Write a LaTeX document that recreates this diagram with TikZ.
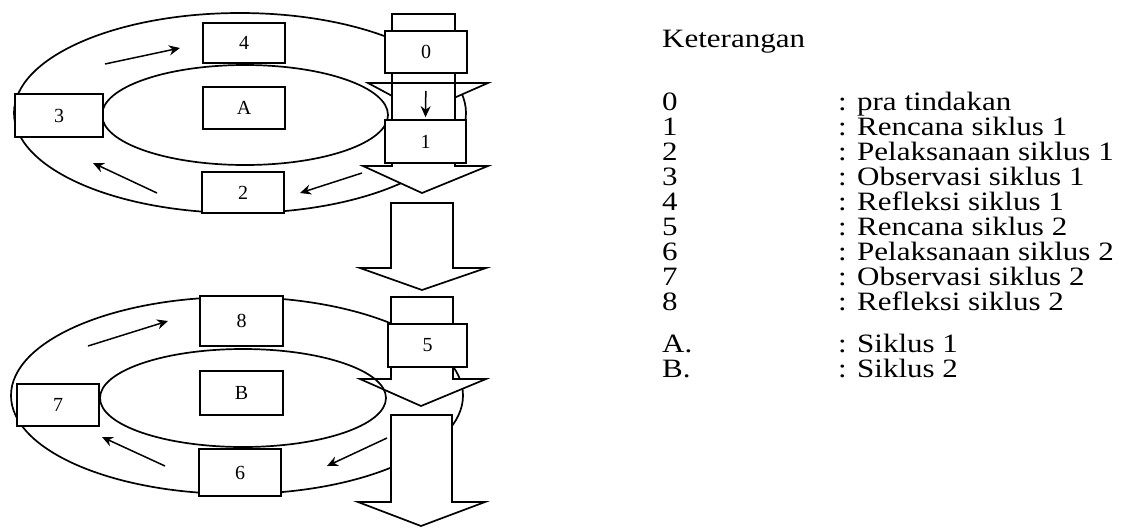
\documentclass[tikz,border=0pt]{standalone}
\usepackage{fontspec}
\setmainfont{Liberation Serif}
\newfontfamily\legfont[FakeStretch=1.17]{Liberation Serif}
\usetikzlibrary{arrows.meta}
\begin{document}
\begin{tikzpicture}[x=1pt,y=-1pt,
  ring/.style={line width=1.7pt},
  blk/.style={draw, fill=white, line width=1.7pt, line join=miter},
  box/.style={draw, fill=white, line width=1.7pt, inner sep=0pt, font=\fontsize{20}{20}\selectfont},
  sarr/.style={line width=1.5pt, -{Stealth[length=11pt,width=10pt]}},
  leg/.style={anchor=base west, inner sep=0pt, font=\legfont\fontsize{26.5}{26.5}\selectfont}
]
\useasboundingbox (0,0) rectangle (1123,528);

% outer rings
\draw[ring] (240,113) ellipse [x radius=226pt, y radius=100pt];
\draw[ring] (237,395.5) ellipse [x radius=226pt, y radius=98.5pt];

% block arrows
\draw[blk] (392,14) -- (455,14) -- (455,83) -- (488,83) -- (422,112) -- (368,83) -- (392,83) -- cycle;
\draw[blk] (392,83) -- (455,83) -- (455,166) -- (488,166) -- (422,193) -- (363,166) -- (392,166) -- cycle;
\draw[blk] (391,203) -- (453,203) -- (453,268) -- (486,268) -- (422,290) -- (360,268) -- (391,268) -- cycle;
\draw[blk] (391,297) -- (453,297) -- (453,379) -- (486,379) -- (421,406) -- (360,379) -- (391,379) -- cycle;
\draw[blk] (391,415) -- (452,415) -- (452,502) -- (485,502) -- (421,526) -- (358,502) -- (391,502) -- cycle;

% inner rings
\draw[ring] (245,115) ellipse [x radius=143pt, y radius=50pt];
\draw[ring] (243,398) ellipse [x radius=143pt, y radius=49pt];

% boxes, cycle 1
\node[box, minimum width=82pt, minimum height=40pt] (b4) at (244,43) {4};
\node[box, minimum width=82pt, minimum height=42pt] (bA) at (244,108) {A};
\node[box, minimum width=88pt, minimum height=43pt] (b3) at (59,115.5) {3};
\node[box, minimum width=82pt, minimum height=41pt] (b2) at (243,192.5) {2};
\node[box, minimum width=82pt, minimum height=42pt] (b0) at (426,52) {0};
\node[box, minimum width=81pt, minimum height=43pt] (b1) at (425.5,141.5) {1};

% boxes, cycle 2
\node[box, minimum width=83pt, minimum height=50pt] (b8) at (241.5,321) {8};
\node[box, minimum width=83pt, minimum height=44pt] (bB) at (241.5,393) {B};
\node[box, minimum width=82pt, minimum height=42pt] (b7) at (58,405) {7};
\node[box, minimum width=82pt, minimum height=47pt] (b6) at (240,472.5) {6};
\node[box, minimum width=79pt, minimum height=43pt] (b5) at (427.5,345.5) {5};

% small arrows
\draw[sarr, shorten <=17pt, shorten >=2pt] (b0.south) -- (b1.north);
\coordinate (p1) at (105,64);  \coordinate (q1) at (180,48);
\coordinate (p2) at (157,193); \coordinate (q2) at (93,163);
\coordinate (p3) at (362,173); \coordinate (q3) at (300,193);
\coordinate (p4) at (88,346);  \coordinate (q4) at (168,321);
\coordinate (p5) at (165,466); \coordinate (q5) at (102,437);
\coordinate (p6) at (387,438); \coordinate (q6) at (327,466);
\draw[sarr] (p1) -- (q1);
\draw[sarr] (p2) -- (q2);
\draw[sarr] (p3) -- (q3);
\draw[sarr] (p4) -- (q4);
\draw[sarr] (p5) -- (q5);
\draw[sarr] (p6) -- (q6);

% legend
\node[leg] (kt) at (662,47) {Keterangan};
\node[leg] (k0) at (662,110) {0};   \node[leg] (d0) at (838,110) {: pra tindakan};
\node[leg] (k1) at (662,135.1) {1}; \node[leg] (d1) at (838,135.1) {: Rencana siklus 1};
\node[leg] (k2) at (662,160.2) {2}; \node[leg] (d2) at (838,160.2) {: Pelaksanaan siklus 1};
\node[leg] (k3) at (662,185.3) {3}; \node[leg] (d3) at (838,185.3) {: Observasi siklus 1};
\node[leg] (k4) at (662,210.4) {4}; \node[leg] (d4) at (838,210.4) {: Refleksi siklus 1};
\node[leg] (k5) at (662,235.5) {5}; \node[leg] (d5) at (838,235.5) {: Rencana siklus 2};
\node[leg] (k6) at (662,260.6) {6}; \node[leg] (d6) at (838,260.6) {: Pelaksanaan siklus 2};
\node[leg] (k7) at (662,285.7) {7}; \node[leg] (d7) at (838,285.7) {: Observasi siklus 2};
\node[leg] (k8) at (662,310.8) {8}; \node[leg] (d8) at (838,310.8) {: Refleksi siklus 2};
\node[leg] (kA) at (662,352) {A.};  \node[leg] (dA) at (838,352) {: Siklus 1};
\node[leg] (kB) at (662,377) {B.};  \node[leg] (dB) at (838,377) {: Siklus 2};
\end{tikzpicture}
\end{document}
